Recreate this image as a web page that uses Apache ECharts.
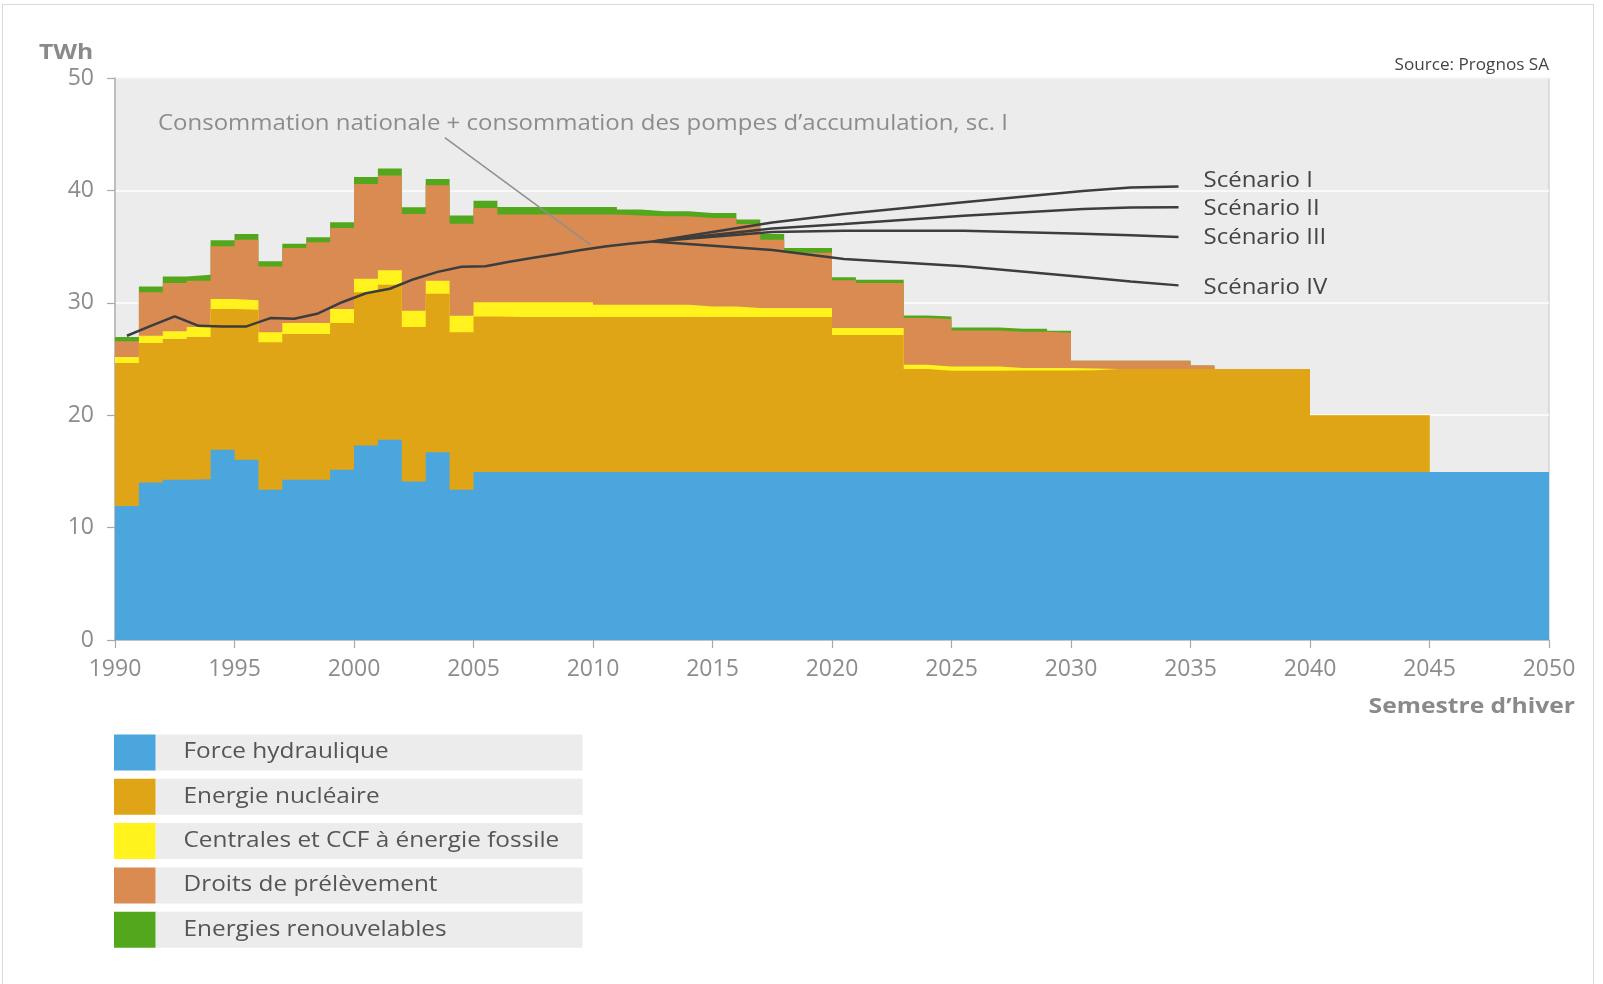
<!DOCTYPE html>
<html>
<head>
<meta charset="utf-8">
<script src="https://cdn.jsdelivr.net/npm/echarts@6/dist/echarts.min.js"></script>
<style>
html,body{margin:0;padding:0;background:#fff;overflow:hidden;}
#frame{position:absolute;left:2px;top:4px;width:1592px;height:1000px;border:1.5px solid #d4dadd;box-sizing:border-box;z-index:2;pointer-events:none;}
#chart{position:absolute;left:0;top:0;width:1603px;height:984px;z-index:1;}
</style>
</head>
<body>
<div id="chart"></div>
<div id="frame"></div>
<script>
// ---- categories: winter semesters 1990 .. 2049 ----
const years = Array.from({length: 60}, (_, i) => 1990 + i);

// ---- supply by source (TWh), one value per winter semester ----
const hydro = [
  11.93,14.01,14.25,14.31,16.92,16.03,13.36,14.25,14.25,15.14,
  17.30,17.81,14.10,16.71,13.36,14.95,14.95,14.95,14.95,14.95,
  14.95,14.95,14.95,14.95,14.95,14.95,14.95,14.95,14.95,14.95,
  14.95,14.95,14.95,14.95,14.95,14.95,14.95,14.95,14.95,14.95,
  14.95,14.95,14.95,14.95,14.95,14.95,14.95,14.95,14.95,14.95,
  14.95,14.95,14.95,14.95,14.95,14.95,14.95,14.95,14.95,14.95
];
const nuclear = [
  12.71,12.41,12.52,12.64,12.53,13.36,13.12,12.97,12.97,13.06,
  13.63,13.80,13.74,14.10,14.01,13.84,13.78,13.78,13.78,13.78,
  13.78,13.78,13.78,13.78,13.78,13.78,13.78,13.78,13.78,13.78,
  12.18,12.18,12.18,9.15,9.00,9.00,9.00,9.03,9.03,9.03,
  9.05,9.15,9.15,9.15,9.15,9.15,9.15,9.15,9.15,9.15,
  5.02,5.02,5.02,5.02,5.02,0,0,0,0,0
];
const fossil = [
  0.53,0.65,0.69,0.89,0.89,0.83,0.89,0.98,0.98,1.25,
  1.22,1.28,1.46,1.16,1.48,1.25,1.31,1.31,1.31,1.31,
  1.10,1.10,1.10,1.10,0.95,0.95,0.80,0.80,0.80,0.80,
  0.62,0.62,0.62,0.39,0.39,0.39,0.39,0.21,0.21,0.21,
  0.15,0,0,0,0,0,0,0,0,0,
  0,0,0,0,0,0,0,0,0,0
];
const droits = [
  1.40,3.86,4.30,4.13,4.69,5.40,5.87,6.68,7.18,7.21,
  8.43,8.43,8.61,8.49,8.19,8.40,7.81,7.81,7.81,7.81,
  8.02,7.93,7.87,7.87,7.87,7.87,7.47,6.09,4.92,4.92,
  4.25,4.01,4.01,4.15,4.22,3.20,3.20,3.24,3.24,3.15,
  0.69,0.74,0.74,0.74,0.74,0.33,0,0,0,0,
  0,0,0,0,0,0,0,0,0,0
];
const renew = [
  0.38,0.53,0.59,0.53,0.53,0.50,0.45,0.38,0.45,0.50,
  0.62,0.62,0.59,0.56,0.72,0.65,0.68,0.68,0.68,0.68,
  0.68,0.53,0.44,0.44,0.45,0.45,0.40,0.50,0.43,0.43,
  0.27,0.30,0.30,0.24,0.23,0.27,0.27,0.26,0.26,0.17,
  0,0,0,0,0,0,0,0,0,0,
  0,0,0,0,0,0,0,0,0,0
];

// ---- national consumption + pump storage (historic, sc. I) ----
const consYears = [1990,1991,1992,1993,1994,1995,1996,1997,1998,1999,2000,2001,2002,2003,2004,2005,2006,2007,2008,2009,2010,2011,2012];
const consumption = [27.07,27.95,28.8,27.95,27.9,27.9,28.64,28.58,29.05,30.05,30.85,31.25,32.1,32.75,33.2,33.25,33.65,34.0,34.35,34.7,35.0,35.25,35.45];

// ---- scenarios ----
const scenYears = [2012,2017,2020,2025,2030,2032,2034];
const scen1 = [35.45,37.15,37.9,38.95,39.95,40.25,40.35];
const scen2 = [35.45,36.6,37.0,37.75,38.35,38.48,38.5];
const scen3 = [35.45,36.3,36.4,36.4,36.15,36.0,35.85];
const scen4 = [35.45,34.7,33.9,33.25,32.3,31.9,31.55];
const scenNames = ['Scénario I','Scénario II','Scénario III','Scénario IV'];

const stackNames = ['Force hydraulique','Energie nucléaire','Centrales et CCF à énergie fossile','Droits de prélèvement','Energies renouvelables'];
const stackColors = ['#4ba6dd','#e0a517','#fff21d','#d98b52','#52a71c'];
const stackData = [hydro, nuclear, fossil, droits, renew];

const FONT = '"Open Sans", "Noto Sans", sans-serif';
const chart = echarts.init(document.getElementById('chart'));

// cumulative tops of the stack (layer k = sum of layers 0..k)
const cumul = [];
stackData.forEach((vals, k) => {
  cumul.push(vals.map((v, i) => +(v + (k > 0 ? cumul[k - 1][i] : 0)).toFixed(3)));
});
function stepPoints(vals){
  const pts = years.map((y, i) => [y, vals[i]]);
  pts.push([years[years.length - 1] + 1, vals[vals.length - 1]]);
  return pts;
}

const series = [];
// draw from the top layer down, each filled to zero; lower layers cover upper ones
for (let k = stackData.length - 1; k >= 0; k--) {
  series.push({
    type: 'line', name: stackNames[k], step: 'end',
    symbol: 'none', silent: true, z: 1,
    data: stepPoints(cumul[k]),
    lineStyle: {width: 0, opacity: 0},
    itemStyle: {color: stackColors[k]},
    areaStyle: {color: stackColors[k], opacity: 1, origin: 'start'}
  });
}
series.push({
  type: 'line', name: 'Consommation', symbol: 'none', z: 5, silent: true,
  data: consYears.map((y, i) => [y + 0.5, consumption[i]]),
  lineStyle: {color: '#3d3d3d', width: 2.5},
  markLine: {
    silent: true, symbol: 'none', label: {show: false},
    lineStyle: {color: '#8f8f8f', width: 1.5, type: 'solid'},
    data: [[{coord: [2003.8, 44.7]}, {coord: [2009.9, 35.15]}]]
  }
});
const scenAll = [scen1, scen2, scen3, scen4];
scenAll.forEach((vals, k) => {
  series.push({
    type: 'line', name: scenNames[k], symbol: 'none', z: 5, silent: true,
    data: scenYears.map((y, i) => [y + 0.5, vals[i]]),
    lineStyle: {color: '#3d3d3d', width: 2.5}
  });
});

chart.setOption({
  animation: false,
  backgroundColor: 'transparent',
  grid: {left: 115, right: 54, top: 78, bottom: 344, show: true, backgroundColor: '#ececec', borderColor: '#c4c4c4', borderWidth: 1, outerBoundsMode: 'none'},
  xAxis: {
    type: 'value', min: 1990, max: 2050, interval: 5,
    axisLine: {show: true, lineStyle: {color: '#b4b4b4', width: 1.5}},
    axisTick: {show: true, length: 8, lineStyle: {color: '#a8a8a8', width: 1.2}},
    axisLabel: {color: '#8c8c8c', fontSize: 23, fontFamily: FONT, margin: 18, formatter: v => String(v)},
    splitLine: {show: false}
  },
  yAxis: {
    type: 'value', min: 0, max: 50, interval: 10,
    axisLine: {show: true, lineStyle: {color: '#b4b4b4', width: 1.5}},
    axisTick: {show: true, length: 8, lineStyle: {color: '#a8a8a8', width: 1.2}},
    axisLabel: {color: '#8c8c8c', fontSize: 23, fontFamily: FONT, margin: 21},
    splitLine: {show: true, lineStyle: {color: '#ffffff', width: 1.5}}
  },
  series: series
});

// ---- annotations, titles and legend ----
const graphics = [
  {type: 'text', x: 39, y: 53, scaleX: 1.12, style: {text: 'TWh', fill: '#8a8a8a', font: 'bold 22px ' + FONT, textVerticalAlign: 'middle'}, silent: true},
  {type: 'text', x: 1549, y: 65, scaleX: 1.07, style: {text: 'Source: Prognos SA', fill: '#444', font: '16px ' + FONT, textAlign: 'right', textVerticalAlign: 'middle'}, silent: true},
  {type: 'text', x: 1575, y: 707, scaleX: 1.12, style: {text: 'Semestre d\u2019hiver', fill: '#8a8a8a', font: 'bold 22px ' + FONT, textAlign: 'right', textVerticalAlign: 'middle'}, silent: true},
  {type: 'text', x: 158, y: 124, scaleX: 1.09, z: 10, style: {text: 'Consommation nationale + consommation des pompes d\u2019accumulation, sc. I', fill: '#8c8c8c', font: '22px ' + FONT, textVerticalAlign: 'middle'}, silent: true}
];
const labelDy = [-6, 1, 1, 2];
scenAll.forEach((vals, k) => {
  const n = vals.length - 1;
  const p = chart.convertToPixel({gridIndex: 0}, [scenYears[n] + 0.5, vals[n]]);
  graphics.push({type: 'text', x: p[0] + 25, y: p[1] + labelDy[k], scaleX: 1.09, z: 10,
    style: {text: scenNames[k], fill: '#444', font: '22px ' + FONT, textVerticalAlign: 'middle'}, silent: true});
});
stackNames.forEach((n, k) => {
  const top = 734.5 + k * 44.3;
  graphics.push({type: 'rect', left: 155.5, top: top, shape: {width: 427, height: 36}, style: {fill: '#ececec'}, silent: true});
  graphics.push({type: 'rect', left: 114, top: top, shape: {width: 41.5, height: 36}, style: {fill: stackColors[k]}, silent: true});
  graphics.push({type: 'text', x: 183.5, y: top + 18, scaleX: 1.16, style: {text: n, fill: '#555', font: '21px ' + FONT, textVerticalAlign: 'middle'}, silent: true});
});
chart.setOption({graphic: graphics});
</script>
</body>
</html>
